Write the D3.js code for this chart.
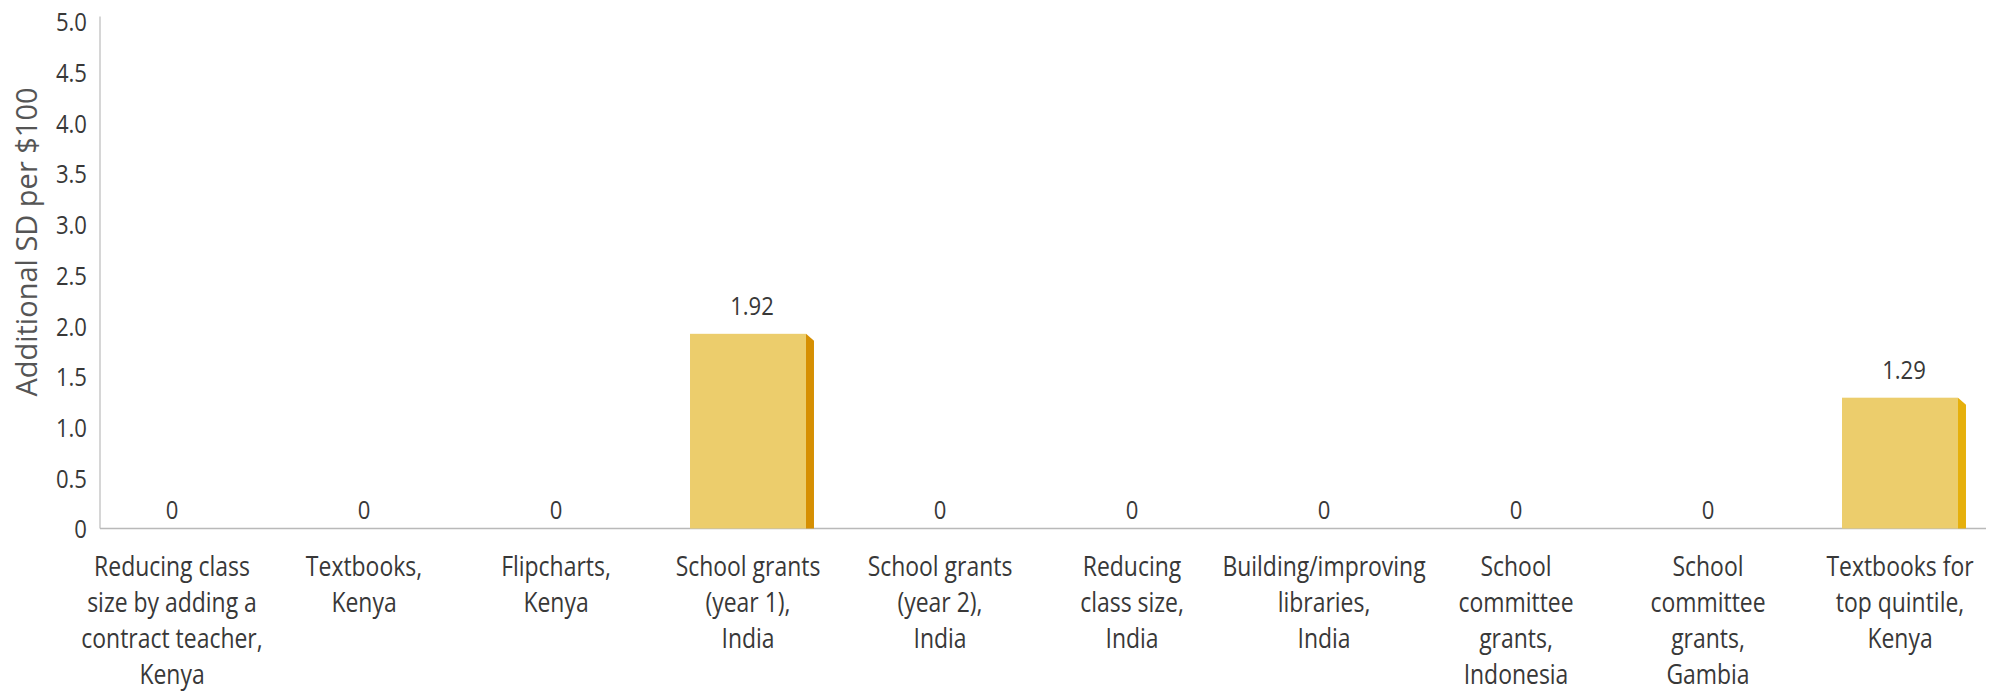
<!DOCTYPE html>
<html>
<head>
<meta charset="utf-8">
<script src="https://cdn.jsdelivr.net/npm/d3@7"></script>
<style>
  html, body { margin: 0; padding: 0; background: #ffffff; }
  svg { display: block; }
  .lbl { font-family: "Open Sans", sans-serif; font-weight: 400; }
</style>
</head>
<body>
<svg id="chart" width="1996" height="695"></svg>
<script>
// Cost-effectiveness of each programme (additional SD per $100 spent)
const categories = [
  ["Reducing class", "size by adding a", "contract teacher,", "Kenya"],
  ["Textbooks,", "Kenya"],
  ["Flipcharts,", "Kenya"],
  ["School grants", "(year 1),", "India"],
  ["School grants", "(year 2),", "India"],
  ["Reducing", "class size,", "India"],
  ["Building/improving", "libraries,", "India"],
  ["School", "committee", "grants,", "Indonesia"],
  ["School", "committee", "grants,", "Gambia"],
  ["Textbooks for", "top quintile,", "Kenya"]
];
const values = [0, 0, 0, 1.92, 0, 0, 0, 0, 0, 1.29];
const sideColors = ["#d99000", "#d99000", "#d99000", "#d68f02", "#d99000", "#d99000", "#d99000", "#d99000", "#d99000", "#e6b00c"];
const yTicks = [0, 0.5, 1, 1.5, 2, 2.5, 3, 3.5, 4, 4.5, 5];
const yTitle = "Additional SD per $100";

const narrow = 0.85;   // horizontal squeeze giving a semi-condensed face

const svg = d3.select("#chart");
const keys = categories.map((c, i) => i);

const x = d3.scaleBand()
  .domain(keys)
  .range([76, 1996])
  .paddingInner(0.396)
  .paddingOuter(0.198);

const y = d3.scaleLinear()
  .domain([0, 5])
  .range([528.5, 21.5]);

const depth = 8;       // width of the shaded side face
const bevel = 7;       // drop of the side face's top edge

// axis lines
svg.append("line")
  .attr("x1", 100).attr("x2", 100)
  .attr("y1", y(5) - 5).attr("y2", y(0))
  .attr("stroke", "#c9c9c9").attr("stroke-width", 1.5);
svg.append("line")
  .attr("x1", 100).attr("x2", 1986)
  .attr("y1", y(0)).attr("y2", y(0))
  .attr("stroke", "#b9b9b9").attr("stroke-width", 1.5);

// y axis tick labels
const yAxis = d3.axisLeft(y)
  .tickValues(yTicks)
  .tickSize(0)
  .tickPadding(0)
  .tickFormat(d => d === 0 ? "0" : d3.format(".1f")(d));
const yg = svg.append("g")
  .attr("transform", "translate(87,0)")
  .call(yAxis);
yg.select(".domain").remove();
yg.selectAll("text")
  .attr("class", "lbl")
  .attr("font-size", 26)
  .attr("fill", "#383838")
  .attr("dy", "0.36em")
  .attr("transform", `scale(${narrow},1)`);

// y axis title
svg.append("text")
  .attr("transform", "translate(37,242) rotate(-90)")
  .attr("text-anchor", "middle")
  .attr("class", "lbl")
  .attr("font-size", 29)
  .attr("fill", "#555555")
  .text(yTitle);

// bars: front face plus a darker bevelled side face
const bars = svg.append("g").selectAll("g")
  .data(values.map((v, i) => ({ v, i })).filter(d => d.v > 0))
  .join("g");

bars.append("polygon")
  .attr("points", d => {
    const x1 = x(d.i) + x.bandwidth();
    const top = y(d.v), base = y(0);
    return [[x1, top], [x1 + depth, top + bevel], [x1 + depth, base], [x1, base]].join(" ");
  })
  .attr("fill", d => sideColors[d.i]);

bars.append("rect")
  .attr("x", d => x(d.i))
  .attr("y", d => y(d.v))
  .attr("width", x.bandwidth())
  .attr("height", d => y(0) - y(d.v))
  .attr("fill", "#eccd6c");

// value labels
svg.append("g").selectAll("text")
  .data(values.map((v, i) => ({ v, i })))
  .join("text")
  .attr("class", "lbl")
  .attr("transform", d => {
    const cx = x(d.i) + x.bandwidth() / 2 + (d.v > 0 ? 4 : 0);
    const cy = d.v > 0 ? y(d.v) - 19 : y(0) - 9.5;
    return `translate(${cx},${cy}) scale(${narrow},1)`;
  })
  .attr("text-anchor", "middle")
  .attr("font-size", 26)
  .attr("fill", "#383838")
  .text(d => d.v === 0 ? "0" : d3.format(".2f")(d.v));

// category labels
const xl = svg.append("g").selectAll("text")
  .data(categories.map((lines, i) => ({ lines, i })))
  .join("text")
  .attr("class", "lbl")
  .attr("transform", d => `translate(${x(d.i) + x.bandwidth() / 2},0) scale(${narrow},1)`)
  .attr("text-anchor", "middle")
  .attr("font-size", 27)
  .attr("fill", "#383838");
xl.selectAll("tspan")
  .data(d => d.lines)
  .join("tspan")
  .attr("x", 0)
  .attr("y", (d, j) => 576 + j * 36)
  .text(d => d);
</script>
</body>
</html>
